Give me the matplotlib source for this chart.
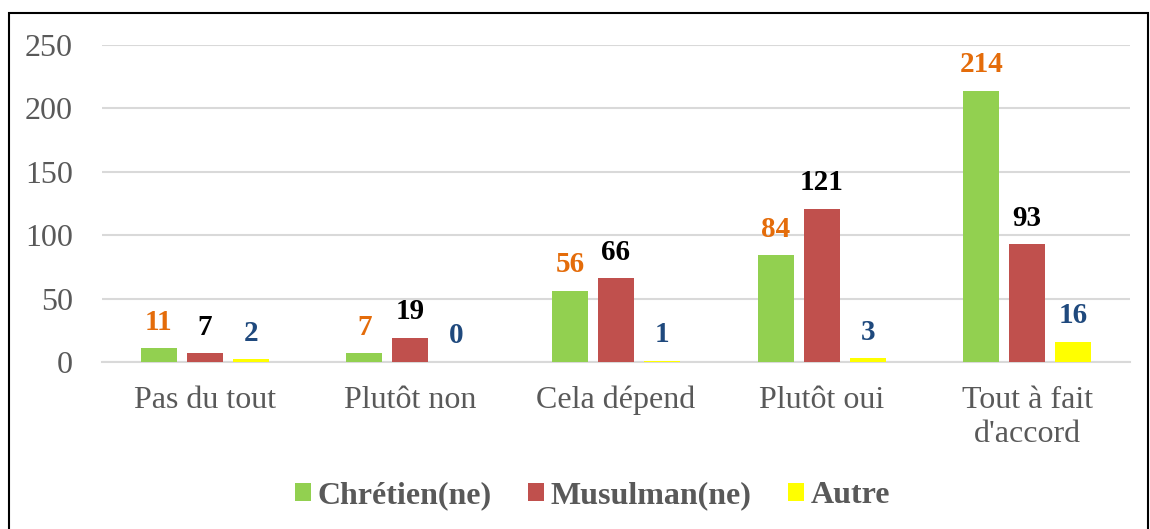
import matplotlib.pyplot as plt
import matplotlib.patches as mpatches
import numpy as np

plt.rcParams['font.family'] = ['Liberation Serif', 'DejaVu Serif']

categories = ['Pas du tout', 'Plutôt non', 'Cela dépend', 'Plutôt oui', "Tout à fait\nd'accord"]
chretien = [11, 7, 56, 84, 214]
musulman = [7, 19, 66, 121, 93]
autre = [2, 0, 1, 3, 16]
series_names = ['Chrétien(ne)', 'Musulman(ne)', 'Autre']

bar_colors = ['#92D050', '#C0504D', '#FFFF00']
label_colors = ['#E46C0A', '#000000', '#1F497D']

fig = plt.figure(figsize=(11.5, 5.29), dpi=100)
ax = fig.add_axes([0.0887, 0.3157, 0.8939, 0.5993])

x = np.arange(len(categories))
offset = 0.224
width = 0.175
for i, (vals, name) in enumerate(zip([chretien, musulman, autre], series_names)):
    pos = x + (i - 1) * offset
    ax.bar(pos, vals, width, color=bar_colors[i], label=name, zorder=3)
    for p, v in zip(pos, vals):
        ax.annotate(str(v), (p, v), xytext=(0, 9), textcoords='offset points',
                    ha='center', va='bottom', fontsize=21, fontweight='bold',
                    color=label_colors[i])

ax.set_ylim(0, 250)
ax.set_xlim(-0.5, len(categories) - 0.5)
ax.set_yticks(np.arange(0, 251, 50))
ax.yaxis.grid(True, color='#D9D9D9', linewidth=1.5, zorder=0)
for s in ['top', 'right', 'left']:
    ax.spines[s].set_visible(False)
ax.spines['bottom'].set_color('#D9D9D9')
ax.spines['bottom'].set_linewidth(1.5)
ax.set_xticks(x)
ax.set_xticklabels(categories, linespacing=1.25)
ax.tick_params(axis='both', length=0, labelsize=23, colors='#595959')
ax.tick_params(axis='x', pad=17)
ax.tick_params(axis='y', pad=21)

leg = ax.legend(loc='center', bbox_to_anchor=(0.515, 0.063), bbox_transform=fig.transFigure,
                ncol=3, frameon=False, handlelength=0.5, handleheight=0.5,
                handletextpad=0.2, columnspacing=1.15,
                prop={'size': 23, 'weight': 'bold'})
for t in leg.get_texts():
    t.set_color('#595959')

fig.patches.append(mpatches.Rectangle((9 / 1150, -0.01), 1139 / 1150, 1 - 13 / 529 + 0.01,
                                      transform=fig.transFigure, fill=False,
                                      edgecolor='black', linewidth=1.5))

fig.savefig('out.png', dpi=100)
